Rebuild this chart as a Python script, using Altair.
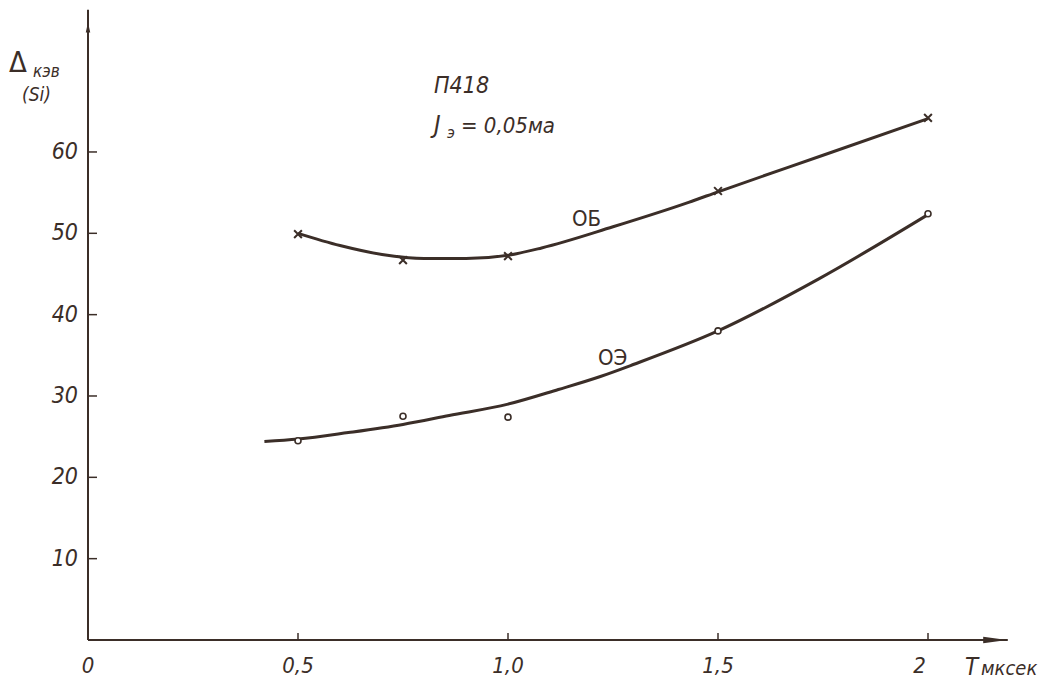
import altair as alt
import pandas as pd

# ---- data ----
ob_x = [0.5, 0.75, 1.0, 1.5, 2.0]
ob_y = [49.9, 46.7, 47.2, 55.2, 64.2]
oe_x = [0.5, 0.75, 1.0, 1.5, 2.0]
oe_y = [24.5, 27.5, 27.4, 38.0, 52.4]

ob_curve_x = [0.5, 0.6, 0.7, 0.8, 0.9, 1.0, 1.08, 1.25, 1.43, 1.5, 1.75, 2.0]
ob_curve_y = [50.0, 48.5, 47.4, 46.9, 46.9, 47.3, 48.2, 50.8, 53.8, 55.1, 59.6, 64.1]
oe_curve_x = [0.42, 0.5, 0.62, 0.75, 0.86, 1.0, 1.12, 1.22, 1.30, 1.5, 1.74, 2.0]
oe_curve_y = [24.4, 24.7, 25.5, 26.5, 27.6, 29.0, 30.8, 32.4, 33.9, 38.0, 44.4, 52.3]

x_ticks = [0.5, 1.0, 1.5, 2.0]
x_tick_labels = ["0", "0,5", "1,0", "1,5", "2"]
x_label_pos = [0.0, 0.5, 1.0, 1.5, 1.98]
y_ticks = [10, 20, 30, 40, 50, 60]
y_tick_labels = ["10", "20", "30", "40", "50", "60"]

X_MAX = 2.2
Y_MAX = 77.7
W = 924
H = 632
INK = "#3b2e28"
FONT = "Liberation Sans Narrow, DejaVu Sans Condensed, Liberation Sans, sans-serif"

xs = alt.Scale(domain=[0, X_MAX], nice=False, zero=False)
ys = alt.Scale(domain=[0, Y_MAX], nice=False, zero=False)


def X(f="x"):
    return alt.X(f"{f}:Q", scale=xs, axis=None)


def Y(f="y"):
    return alt.Y(f"{f}:Q", scale=ys, axis=None)


curves = pd.DataFrame(
    {"x": ob_curve_x + oe_curve_x,
     "y": ob_curve_y + oe_curve_y,
     "s": ["ОБ"] * len(ob_curve_x) + ["ОЭ"] * len(oe_curve_x)}
)
ob_pts = pd.DataFrame({"x": ob_x, "y": ob_y})
oe_pts = pd.DataFrame({"x": oe_x, "y": oe_y})

lines = alt.Chart(curves).mark_line(interpolate="monotone", color=INK, strokeWidth=3).encode(
    x=X(), y=Y(), detail="s:N"
)

ob_marks = alt.Chart(ob_pts).mark_point(
    shape="M-1,-1L1,1M-1,1L1,-1", size=60, color=INK, strokeWidth=2, opacity=1
).encode(x=X(), y=Y())

oe_marks = alt.Chart(oe_pts).mark_point(
    shape="circle", size=36, stroke=INK, fill="white", fillOpacity=1, strokeWidth=1.6, opacity=1
).encode(x=X(), y=Y())

# axes with arrows
axes_df = pd.DataFrame({"x": [0.0, 0.0], "x2": [0.0, 2.19], "y": [0.0, 0.0], "y2": [77.5, 0.0]})
axis_lines = alt.Chart(axes_df).mark_rule(color=INK, strokeWidth=2).encode(
    x=X(), x2="x2:Q", y=Y(), y2="y2:Q"
)
arrows_df = pd.DataFrame({
    "x": [0.0, 2.16],
    "y": [75.3, 0.0],
    "sh": ["M-0.45,1L0,-1L0.45,1Z", "M-1,-0.28L1,0L-1,0.28Z"],
    "sz": [100, 576],
})
arrows = alt.Chart(arrows_df).mark_point(color=INK, filled=True, opacity=1).encode(
    x=X(), y=Y(),
    shape=alt.Shape("sh:N", scale=None, legend=None),
    size=alt.Size("sz:Q", scale=None, legend=None),
)

xt = alt.Chart(pd.DataFrame({"x": x_ticks})).mark_rule(color=INK, strokeWidth=1.5).encode(
    x=X(), y=alt.value(H), y2=alt.value(H - 7)
)
yt = alt.Chart(pd.DataFrame({"y": y_ticks})).mark_rule(color=INK, strokeWidth=1.5).encode(
    y=Y(), x=alt.value(0), x2=alt.value(9)
)

xl = alt.Chart(pd.DataFrame({"x": x_label_pos, "t": x_tick_labels})).mark_text(
    font=FONT, fontSize=22, fontStyle="italic", color=INK, baseline="middle", align="center"
).encode(x=X(), y=alt.value(H + 26), text="t:N")
yl = alt.Chart(pd.DataFrame({"y": y_ticks, "t": y_tick_labels})).mark_text(
    font=FONT, fontSize=23, fontStyle="italic", color=INK, baseline="middle", align="right", dx=-10
).encode(y=Y(), x=alt.value(0), text="t:N")

# free annotations (pixel placement relative to plot origin)
ann_text = ["Δ", "кэв", "(Si)", "П418", "J", "э", "= 0,05ма", "ОБ", "ОЭ", "T", "мксек"]
ann_px = [-79, -55, -66, 346, 346, 359, 373, 484, 510, 877, 893]
ann_py = [64, 69, 93, 85, 125, 130, 125, 218, 357, 667, 667]
ann_fs = [29, 17, 19, 23, 25, 16, 22, 22, 22, 24, 20]
ann_it = ["normal", "italic", "italic", "italic", "italic", "italic", "italic", "normal", "normal", "italic", "italic"]
ann = alt.Chart(pd.DataFrame({"t": ann_text, "px": ann_px, "py": ann_py, "fs": ann_fs, "st": ann_it})).mark_text(
    font=FONT, color=INK, align="left", baseline="alphabetic"
).encode(
    x=alt.X("px:Q", scale=None, axis=None),
    y=alt.Y("py:Q", scale=None, axis=None),
    size=alt.Size("fs:Q", scale=None, legend=None),
    text="t:N",
)
ann_it_layer = alt.layer(
    ann.transform_filter(alt.datum.st == "italic").mark_text(
        font=FONT, color=INK, align="left", baseline="alphabetic", fontStyle="italic"),
    ann.transform_filter(alt.datum.st == "normal").mark_text(
        font=FONT, color=INK, align="left", baseline="alphabetic"),
)

chart = alt.layer(
    axis_lines, arrows, xt, yt, xl, yl, lines, ob_marks, oe_marks, ann_it_layer
).resolve_scale(x="independent", y="independent").properties(
    width=W, height=H,
    background="white",
    autosize=alt.AutoSizeParams(type="none"),
    padding={"left": 80, "top": 0, "right": 29, "bottom": 42},
).configure_view(stroke="transparent", strokeWidth=0)

chart.save("out.html", embed_options={"renderer": "svg", "actions": False})
